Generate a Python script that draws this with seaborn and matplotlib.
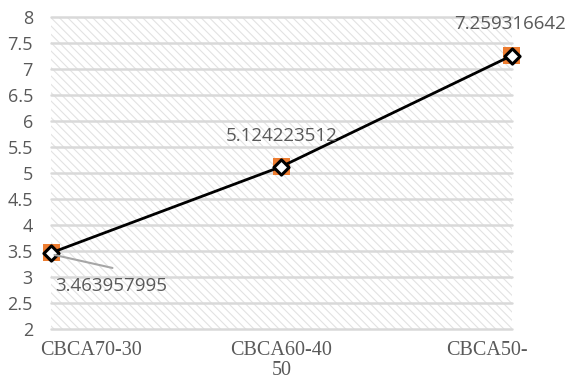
import matplotlib
matplotlib.use("Agg")
import matplotlib.pyplot as plt
from matplotlib.patches import Rectangle
import seaborn as sns
import pandas as pd

# Data
categories = ["CBCA70-30", "CBCA60-40", "CBCA50-50"]
values = [3.463957995, 5.124223512, 7.259316642]
value_labels = ["3.463957995", "5.124223512", "7.259316642"]
x_tick_text = ["CBCA70-30", "CBCA60-40\n50", "CBCA50-"]
y_ticks = [2, 2.5, 3, 3.5, 4, 4.5, 5, 5.5, 6, 6.5, 7, 7.5, 8]
y_tick_text = ["2", "2.5", "3", "3.5", "4", "4.5", "5", "5.5", "6", "6.5", "7", "7.5", "8"]

sns.set_style("white")
plt.rcParams["font.family"] = ["Open Sans", "DejaVu Sans"]
plt.rcParams["hatch.linewidth"] = 0.8

TEXT = "#595959"
GRID = "#d9d9d9"
ORANGE = "#ED7D31"

df = pd.DataFrame({"pos": range(len(categories)), "value": values, "category": categories})

fig = plt.figure(figsize=(5.70, 3.83), dpi=100)
ax = fig.add_axes([0.0895, 0.141, 0.8085, 0.8146])

# hatched plot area
ax.add_patch(Rectangle((0, 0), 1, 1, transform=ax.transAxes, facecolor="white",
                       edgecolor="#e2e2e2", linewidth=0, hatch="\\\\\\\\", zorder=0))

# horizontal gridlines
for yv in y_ticks:
    ax.axhline(yv, color=GRID, linewidth=1.8, zorder=1, clip_on=False)

# orange square markers (behind the line)
sns.scatterplot(data=df, x="pos", y="value", marker="s", s=150, color=ORANGE,
                edgecolor="none", linewidth=0, zorder=2, ax=ax, clip_on=False)
# the connecting line
sns.lineplot(data=df, x="pos", y="value", color="black", linewidth=2.0,
             zorder=3, ax=ax, clip_on=False)
# white diamond markers on top
sns.scatterplot(data=df, x="pos", y="value", marker="D", s=60, color="white",
                edgecolor="black", linewidth=2.2, zorder=4, ax=ax, clip_on=False)

# data labels
offsets = [(60, -33), (0, 31), (-2, 32)]
for xi, yv, lab, off in zip(df["pos"], values, value_labels, offsets):
    ax.annotate(lab, xy=(xi, yv), xytext=off, textcoords="offset pixels",
                ha="center", va="center", fontsize=13.5, color=TEXT, zorder=5,
                annotation_clip=False)

# leader line for the first label
ax.annotate("", xy=(df["pos"][0] + 0.015, values[0] - 0.04), xytext=(58, -13),
            textcoords="offset pixels",
            arrowprops=dict(arrowstyle="-", color="#a6a6a6", linewidth=1.5,
                            shrinkA=0, shrinkB=0), zorder=5)

ax.set_xlim(0, 2)
ax.set_ylim(2, 8)
ax.set_yticks(y_ticks)
ax.set_yticklabels(y_tick_text, fontsize=13, color=TEXT)
label_shift = [0.174, 0.0, -0.11]
ax.set_xticks([p + s for p, s in zip(df["pos"], label_shift)])
ax.set_xticklabels(x_tick_text, fontsize=14.5, color=TEXT,
                   family=["Liberation Serif", "DejaVu Serif"], linespacing=1.05)
ax.tick_params(axis="y", length=0, pad=13)
ax.tick_params(axis="x", length=0, pad=9)
ax.set_xlabel("")
ax.set_ylabel("")
for sp in ax.spines.values():
    sp.set_visible(False)
ax.grid(False)

fig.savefig("out.png", dpi=100)
